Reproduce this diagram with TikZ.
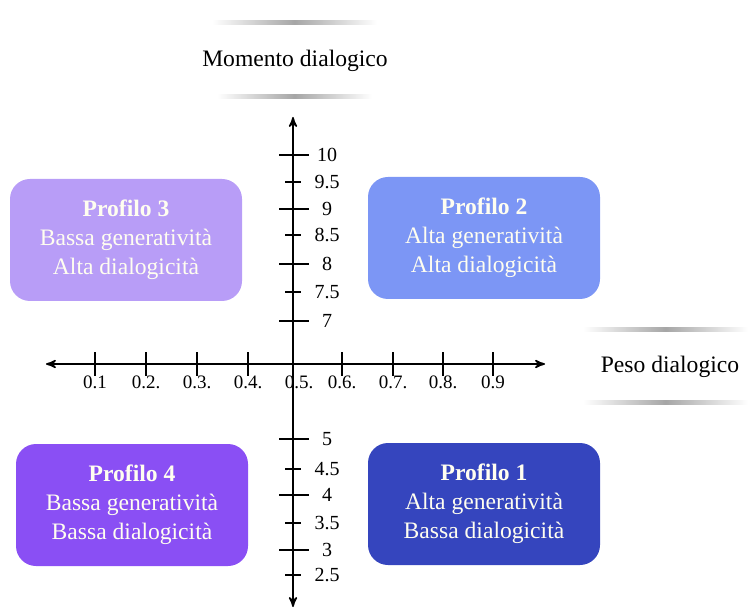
\documentclass[tikz,border=0pt]{standalone}
\usepackage{fontspec}
\setmainfont{Liberation Serif}
\usepackage{tikz}
\usetikzlibrary{positioning,arrows,shapes}

\definecolor{profA}{HTML}{3545BE}
\definecolor{profB}{HTML}{7C96F5}
\definecolor{profC}{HTML}{B89DF7}
\definecolor{profD}{HTML}{8A4FF4}

\begin{document}
\begin{tikzpicture}[x=0.5pt,y=-0.5pt,>=stealth,
    profile/.style={rounded corners=10pt,minimum width=116pt,minimum height=61pt,
        align=center,text=white!94!yellow,font=\fontsize{11.8}{14.5}\selectfont},
    ticklab/.style={font=\fontsize{9.5}{11}\selectfont,inner sep=1pt},
    vticklab/.style={font=\fontsize{10}{11}\selectfont,inner sep=1pt},
    axtitle/.style={font=\fontsize{11.8}{14}\selectfont},
    glow/.style={left color=white,right color=white,middle color=black!35}]
    \useasboundingbox (0,0) rectangle (748,608);

    % titoli degli assi
    \shade[glow] (212,21) rectangle (377,25);
    \shade[glow] (217,95) rectangle (372,99);
    \node[axtitle] (vtitle) at (295,61) {Momento dialogico};
    \shade[glow] (583,328) rectangle (748,332);
    \shade[glow] (583,400) rectangle (748,404);
    \node[axtitle] (htitle) at (670,367) {Peso dialogico};

    % profili
    \node[profile,fill=profC] (p3) at (126,240) {\textbf{Profilo 3}\\Bassa generatività\\Alta dialogicità};
    \node[profile,fill=profB] (p2) at (484,238) {\textbf{Profilo 2}\\Alta generatività\\Alta dialogicità};
    \node[profile,fill=profD] (p4) at (132,505) {\textbf{Profilo 4}\\Bassa generatività\\Bassa dialogicità};
    \node[profile,fill=profA] (p1) at (484,504) {\textbf{Profilo 1}\\Alta generatività\\Bassa dialogicità};

    % scala orizzontale
    \foreach \x/\l [count=\i] in {95/0.1,146/0.2.,197/0.3.,248/0.4.,342/0.6.,393/0.7.,443/0.8.,493/0.9} {
        \coordinate (ht\i) at (\x,364);
        \draw[thick] ([yshift=-6]ht\i) -- ([yshift=6]ht\i);
        \node[ticklab] (hl\i) at (\x,382) {\l};
    }
    \node[ticklab] (hl0) at (299,382) {0.5.};

    % scala verticale
    \foreach \y/\l [count=\i] in {155/10,209/9,264/8,321/7,439/5,495/4,550/3} {
        \coordinate (vt\i) at (293,\y);
        \draw[thick] ([xshift=-7]vt\i) -- ([xshift=8]vt\i);
        \node[vticklab] (vl\i) at (327,\y) {\l};
    }
    \foreach \y/\l [count=\i] in {182/9.5,235/8.5,292/7.5,469/4.5,523/3.5,575/2.5} {
        \coordinate (vh\i) at (293,\y);
        \draw[thick] ([xshift=-4]vh\i) -- ([xshift=4]vh\i);
        \node[vticklab] (vm\i) at (327,\y) {\l};
    }

    % assi
    \coordinate (xl) at (46,364);
    \coordinate (xr) at (545,364);
    \coordinate (yt) at (293,117);
    \coordinate (yb) at (293,607);
    \draw[<->,thick,>=stealth'] (xl) -- (xr);
    \draw[<->,thick,>=stealth'] (yb) -- (yt);
\end{tikzpicture}
\end{document}
